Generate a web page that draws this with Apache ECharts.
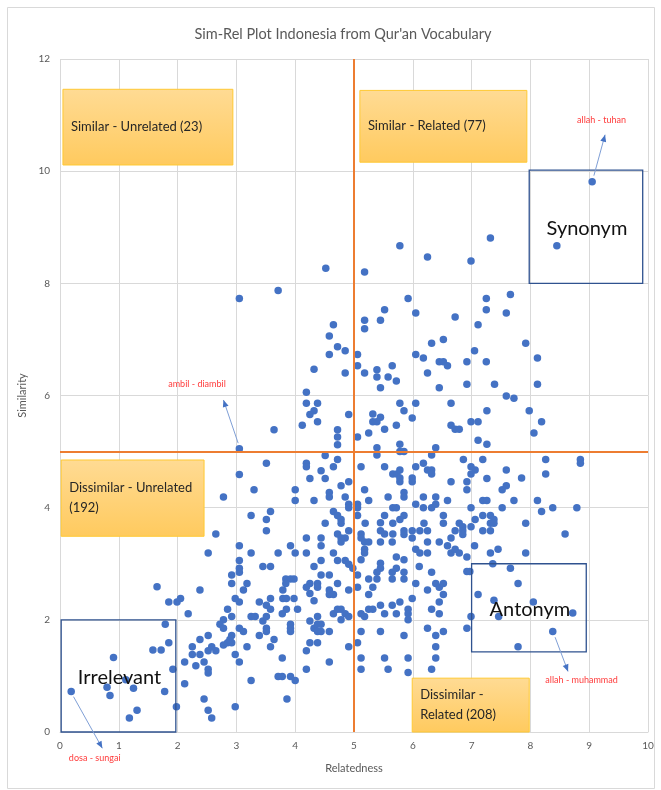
<!DOCTYPE html>
<html>
<head>
<meta charset="utf-8">
<script src="https://cdn.jsdelivr.net/npm/echarts@6/dist/echarts.min.js"></script>
<style>html,body{margin:0;padding:0;background:#fff}#c{width:661px;height:790px}</style>
</head>
<body>
<div id="c"></div>
<script>
// ---------- data (Relatedness, Similarity) ----------
const similarUnrelated = [
[4.52,8.27],[3.71,7.87],[3.05,7.73],[4.65,7.26],[4.58,7.06],[4.72,6.87],[4.85,6.80],[4.58,6.73],[4.32,6.47],[4.85,6.40],[4.19,6.06],[4.19,5.86],[4.38,5.86],[4.32,5.73],[4.25,5.66],[4.91,5.66],[4.38,5.53],[4.12,5.47],[3.64,5.39],[4.72,5.39],[4.72,5.26],[4.72,5.12],[3.05,5.05]
];
const similarRelated = [
[5.78,8.67],[6.25,8.47],[6.99,8.40],[7.32,8.81],[5.18,8.20],[8.45,8.67],[9.05,9.81],
[5.92,7.73],[5.52,7.53],[5.18,7.34],[5.18,7.19],[5.45,7.34],[6.05,7.47],[6.72,7.40],[7.25,7.73],[7.25,7.53],[7.66,7.80],[7.59,7.47],[7.11,7.26],[6.52,7.00],[6.32,6.93],[7.92,6.93],[7.05,6.80],[5.06,6.73],[5.06,6.53],[6.05,6.73],[6.18,6.67],[6.45,6.60],[6.52,6.60],[6.59,6.53],[6.92,6.60],[7.25,6.60],[8.12,6.67],[5.65,6.53],[5.39,6.46],[5.18,6.40],[5.39,6.33],[5.58,6.33],[5.72,6.26],[6.25,6.40],[5.45,6.14],[6.45,6.14],[6.92,6.20],[7.39,6.20],[8.12,6.20],[7.59,5.99],[7.72,5.95],
[5.78,5.86],[6.05,5.86],[6.65,5.86],[5.85,5.73],[5.32,5.67],[5.45,5.61],[5.32,5.53],[5.39,5.53],[5.99,5.60],[5.52,5.40],[5.72,5.47],[5.25,5.33],[5.06,5.26],[6.65,5.47],[6.72,5.40],[6.79,5.40],[6.99,5.53],[7.11,5.53],[7.26,5.73],[7.98,5.73],[8.19,5.53],[8.06,5.33],[7.11,5.20],[7.26,5.13],[5.78,5.13],[5.39,5.07],[6.39,5.07]
];
const dissimilarUnrelated = [
[4.51,4.93],[3.51,4.79],[4.19,4.79],[4.19,4.73],[4.72,4.86],[4.65,4.73],[4.44,4.66],[3.05,4.59],[4.25,4.52],[4.51,4.52],[4.91,4.46],[4.78,4.39],[3.30,4.32],[4.00,4.32],[4.58,4.27],[4.58,4.19],[2.78,4.19],[4.00,4.13],[4.32,4.13],[4.85,4.19],[4.91,4.06],[4.91,4.00],[3.58,3.93],[3.25,3.86],[3.51,3.79],[4.65,3.93],[4.72,3.86],[4.78,3.79],[4.78,3.72],[4.51,3.72],[3.51,3.59],[4.91,3.59],[2.65,3.53],[4.72,3.53],[4.78,3.46],[4.85,3.46],[4.78,3.39],[4.19,3.46],[4.44,3.46],[4.44,3.32],[3.05,3.32],[3.92,3.32],[2.52,3.19],[3.25,3.19],[3.71,3.19],[4.00,3.19],[4.19,3.19],[4.65,3.19],[3.05,3.06],[4.44,3.06],[4.72,3.06],[4.85,3.06],[4.91,2.99],[3.45,2.95],[3.58,2.95],[4.32,2.95],[3.05,2.92],[4.98,2.92],[4.32,2.34],[4.25,2.47],[4.44,2.80],
[2.92,2.80],[3.05,2.85],[2.92,2.65],[3.18,2.65],[3.12,2.53],[3.84,2.73],[3.92,2.73],[3.98,2.73],[3.84,2.65],[4.25,2.65],[4.38,2.65],[4.38,2.58],[4.19,2.58],[4.58,2.80],[4.72,2.65],[4.58,2.53],[4.58,2.45],[4.65,2.45],[4.91,2.53],[3.79,2.53],[3.79,2.38],[3.85,2.38],[3.98,2.38],[3.58,2.38],[3.39,2.32],[3.51,2.26],[3.58,2.19],[3.85,2.19],[4.04,2.19],[2.98,2.38],[3.05,2.32],[1.65,2.59],[1.85,2.32],[1.99,2.32],[2.05,2.38],[2.38,2.53],[2.18,2.11],[2.85,2.19],[2.78,2.00],[2.92,2.06],[2.72,1.92],[2.78,1.85],[3.25,2.06],[3.32,2.06],[3.45,1.98],[3.51,2.06],[3.51,1.85],[3.51,1.79],[3.39,1.72],[3.64,1.65],[3.05,1.85],[3.12,1.79],[2.92,1.72],[3.92,1.92],[3.92,1.85],[3.92,1.79],[3.78,2.11],[4.25,1.98],[4.32,1.85],[4.38,1.92],[4.44,1.92],[4.38,1.79],[4.44,1.79],[4.38,2.06],[4.58,1.79],[4.65,2.11],[4.72,2.19],[4.78,2.19],[4.85,2.11],[4.78,2.00],[4.91,2.06],[4.25,1.59],[4.38,1.59],[4.19,1.45],[4.19,1.12],[4.58,1.25],[4.91,1.52],[3.78,1.32],[3.71,0.99],[3.78,0.99],[3.92,0.99],[4.00,0.92],[3.86,0.59],[3.25,0.92],[2.98,0.45],[3.58,1.52],[3.18,1.52],[3.05,1.25],[2.98,1.38],[2.85,1.59],[2.78,1.55],[2.92,1.59],[2.89,1.65],[2.58,1.52],[2.65,1.45],[2.52,1.45],[2.52,1.72],[2.38,1.65],[2.25,1.52],[2.25,1.38],[2.38,1.38],[2.45,1.25],[2.31,1.18],[2.52,1.12],[2.52,1.05],[2.12,1.25],[2.12,0.86],[1.92,1.12],[1.85,1.59],[1.79,1.92],[1.58,1.46],[1.72,1.46],[2.45,0.59],[2.52,0.39],[2.58,0.25],[1.98,0.45],[1.78,0.72],[1.31,0.39],[1.18,0.25],[1.25,0.78],[0.91,1.33],[0.85,0.65],[0.80,0.80],[0.19,0.72],[1.12,0.93]
];
const dissimilarRelated = [
[5.78,5.0],[5.85,5.0],[5.39,4.94],[6.32,4.94],[5.12,4.73],[5.52,4.73],[6.05,4.73],[6.18,4.79],[6.25,4.67],[6.32,4.67],[6.32,4.60],[6.86,4.86],[7.19,4.86],[6.99,4.73],[7.06,4.67],[6.99,4.60],[7.59,4.67],[8.26,4.86],[8.85,4.86],[8.85,4.79],[8.26,4.60],[7.85,4.53],[7.26,4.52],[6.65,4.46],[6.92,4.46],[6.92,4.32],[7.59,4.39],[7.52,4.32],[5.66,4.60],[5.73,4.60],[5.78,4.67],[5.78,4.53],[5.78,4.46],[5.99,4.53],[5.99,4.46],[5.18,4.32],[5.85,4.27],[5.85,4.19],[5.58,4.19],[5.25,4.13],[6.18,4.19],[6.39,4.19],[6.59,4.13],[7.19,4.13],[7.26,4.13],[7.72,4.13],[8.12,4.13],[8.38,4.0],[8.79,4.0],[8.19,3.93],[7.52,4.0],[6.99,4.0],[6.05,4.06],[6.18,4.0],[6.32,4.0],[6.39,4.06],[5.66,4.0],[5.72,4.0],[5.06,4.06],[5.06,4.0],[5.06,3.86],[5.52,3.86],[5.85,3.86],[5.78,3.79],[6.52,3.86],[6.52,3.72],[7.19,3.86],[7.32,3.86],[7.38,3.79],[7.32,3.72],[7.38,3.72],[7.06,3.79],[6.99,3.66],[6.79,3.72],[6.85,3.66],[6.85,3.59],[6.85,3.52],[6.72,3.59],[6.65,3.46],[7.19,3.59],[7.32,3.59],[7.92,3.72],[8.59,3.53],[5.19,3.72],[5.45,3.73],[5.45,3.59],[5.52,3.53],[5.66,3.72],[5.66,3.53],[5.85,3.59],[5.85,3.52],[5.99,3.59],[5.99,3.46],[6.12,3.59],[6.25,3.59],[6.19,3.72],[6.25,3.39],[6.45,3.39],[6.59,3.32],[6.65,3.19],[6.72,3.26],[6.79,3.19],[6.92,3.12],[7.05,3.32],[7.32,3.19],[7.45,3.26],[7.92,3.19],[6.05,3.26],[6.12,3.19],[6.25,3.19],[5.65,3.39],[5.45,3.39],[5.18,3.39],[5.25,3.39],[5.18,3.26],[5.18,3.19],[5.12,3.53],[5.12,3.46],[5.12,3.07],[5.72,3.12],[5.85,3.07],[5.45,3.01],[6.11,2.95],[7.36,3.0],
[5.06,2.80],[5.06,2.58],[5.25,2.73],[5.39,2.85],[5.39,2.73],[5.45,2.92],[5.32,2.58],[5.25,2.45],[5.65,2.85],[5.65,2.73],[5.72,2.92],[5.85,2.85],[5.85,2.73],[6.32,2.85],[6.05,2.65],[6.25,2.53],[6.39,2.65],[6.45,2.58],[6.52,2.65],[6.52,2.45],[5.99,2.38],[6.45,2.32],[5.78,2.32],[5.65,2.26],[5.45,2.26],[5.25,2.19],[5.32,2.19],[5.12,2.11],[5.18,2.06],[5.52,2.11],[5.72,2.11],[5.92,2.19],[5.92,2.11],[5.92,2.0],[6.32,2.19],[6.45,2.11],[6.99,2.06],[6.92,2.86],[6.97,2.86],[7.11,2.45],[7.38,2.35],[7.46,2.06],[7.66,2.92],[7.79,2.65],[8.05,2.32],[8.72,2.12],[8.38,1.79],[7.79,1.52],[6.92,1.85],[6.25,1.85],[6.39,1.72],[6.52,1.79],[6.39,1.52],[6.39,1.32],[6.32,1.12],[5.85,1.72],[5.45,1.79],[5.12,1.79],[5.06,1.59],[5.12,1.32],[5.12,1.12],[5.52,1.32],[5.58,1.12],[5.92,1.32],[5.92,1.06]
];
const xTicks = [0,1,2,3,4,5,6,7,8,9,10];
const yTicks = [0,2,4,6,8,10,12];

// quadrant boxes: [x1,y1,x2,y2,text]
const quadrantBoxes = [
  [0.05,11.46,2.94,10.11,'Similar - Unrelated (23)'],
  [5.10,11.44,7.94,10.16,'Similar - Related (77)'],
  [0.02,4.85,2.45,3.49,'Dissimilar - Unrelated\n(192)'],
  [5.99,0.96,7.98,0.0,'Dissimilar -\nRelated (208)']
];
const classBoxes = [
  [7.98,10.02,9.91,8.0,'Synonym'],
  [7.0,3.0,8.95,1.43,'Antonym'],
  [0.02,2.0,1.97,0.0,'Irrelevant']
];
// word-pair callouts: label text, label centre, arrow start, arrow tip
const callouts = [
  ['allah - tuhan',[9.21,10.91],[9.08,9.92],[9.27,10.65]],
  ['ambil - diambil',[2.33,6.20],[3.03,5.15],[2.78,5.92]],
  ['allah - muhammad',[8.87,0.92],[8.42,1.69],[8.64,1.08]],
  ['dosa - sungai',[0.59,-0.46],[0.23,0.63],[0.72,-0.29]]
];

const allPoints = similarUnrelated.concat(similarRelated, dissimilarUnrelated, dissimilarRelated);
const FONT = 'Lato, "Open Sans", sans-serif';

const chart = echarts.init(document.getElementById('c'));
chart.setOption({
  animation: false,
  backgroundColor: '#ffffff',
  title: {
    text: 'Sim-Rel Plot Indonesia from Qur\'an Vocabulary',
    left: 338, top: 22, textAlign: 'center',
    textStyle: {fontFamily: FONT, fontSize: 14.5, fontWeight: 'normal', color: '#595959'}
  },
  grid: {left: 60, right: 13, top: 59, bottom: 58},
  xAxis: {
    type: 'value', min: xTicks[0], max: xTicks[xTicks.length-1], interval: 1,
    name: 'Relatedness', nameLocation: 'middle', nameGap: 31,
    nameTextStyle: {fontFamily: FONT, fontSize: 11, color: '#595959'},
    axisLine: {show: true, lineStyle: {color: '#D9D9D9'}},
    axisTick: {show: false},
    axisLabel: {fontFamily: FONT, fontSize: 10, color: '#595959', margin: 9},
    splitLine: {show: true, lineStyle: {color: '#D9D9D9', width: 1}}
  },
  yAxis: {
    type: 'value', min: yTicks[0], max: yTicks[yTicks.length-1], interval: 2,
    name: 'Similarity', nameLocation: 'middle', nameGap: 28,
    nameTextStyle: {fontFamily: FONT, fontSize: 11, color: '#595959'},
    axisLine: {show: false},
    axisTick: {show: false},
    axisLabel: {fontFamily: FONT, fontSize: 10, color: '#595959', margin: 10},
    splitLine: {show: true, lineStyle: {color: '#D9D9D9', width: 1}}
  },
  series: [{
    type: 'scatter',
    data: allPoints,
    symbolSize: 7.5,
    itemStyle: {color: '#4472C4', opacity: 1},
    z: 3,
    markLine: {
      silent: true, symbol: ['none','none'],
      lineStyle: {color: '#ED7D31', width: 2, type: 'solid'},
      label: {show: false},
      data: [{xAxis: 5}, {yAxis: 5}]
    }
  }]
});

function P(x, y) { return chart.convertToPixel({gridIndex: 0}, [x, y]); }
const g = [];
// outer frame
g.push({type: 'rect', shape: {x: 7.5, y: 7.5, width: 647, height: 781}, style: {fill: 'none', stroke: '#D9D9D9', lineWidth: 1}, z: 0, silent: true});
quadrantBoxes.forEach(b => {
  const a = P(b[0], b[1]), c = P(b[2], b[3]);
  g.push({type: 'rect', z: 10, shape: {x: a[0], y: a[1], width: c[0]-a[0], height: c[1]-a[1]},
    style: {fill: new echarts.graphic.LinearGradient(0,0,0,1,[{offset:0,color:'#FFDB94'},{offset:1,color:'#FFCA5E'}]), stroke: '#FFC933', lineWidth: 1}});
  g.push({type: 'text', z: 11, x: a[0] + 8, y: (a[1]+c[1])/2,
    style: {text: b[4], font: '13px ' + FONT, fill: '#262626', verticalAlign: 'middle', align: 'left', lineHeight: 20}});
});
classBoxes.forEach(b => {
  const a = P(b[0], b[1]), c = P(b[2], b[3]);
  g.push({type: 'rect', z: 10, shape: {x: a[0], y: a[1], width: c[0]-a[0], height: c[1]-a[1]},
    style: {fill: 'none', stroke: '#2F528F', lineWidth: 1.3}});
  g.push({type: 'text', z: 11, x: (a[0]+c[0])/2 + 1, y: (a[1]+c[1])/2 + 2,
    style: {text: b[4], font: '20px ' + FONT, fill: '#111111', verticalAlign: 'middle', align: 'center'}});
});
callouts.forEach(c => {
  const l = P(c[1][0], c[1][1]), s = P(c[2][0], c[2][1]), t = P(c[3][0], c[3][1]);
  g.push({type: 'text', z: 11, x: l[0], y: l[1],
    style: {text: c[0], font: '9px ' + FONT, fill: '#FF3B3B', verticalAlign: 'middle', align: 'center'}});
  g.push({type: 'line', z: 11, shape: {x1: s[0], y1: s[1], x2: t[0], y2: t[1]}, style: {stroke: '#7F9FD6', lineWidth: 1}});
  const ang = Math.atan2(t[1]-s[1], t[0]-s[0]), L = 7, W = 3;
  const bx = t[0] - L*Math.cos(ang), by = t[1] - L*Math.sin(ang);
  g.push({type: 'polygon', z: 11, shape: {points: [[t[0], t[1]], [bx - W*Math.sin(ang), by + W*Math.cos(ang)], [bx + W*Math.sin(ang), by - W*Math.cos(ang)]]},
    style: {fill: '#4472C4'}});
});
chart.setOption({graphic: g});
</script>
</body>
</html>
